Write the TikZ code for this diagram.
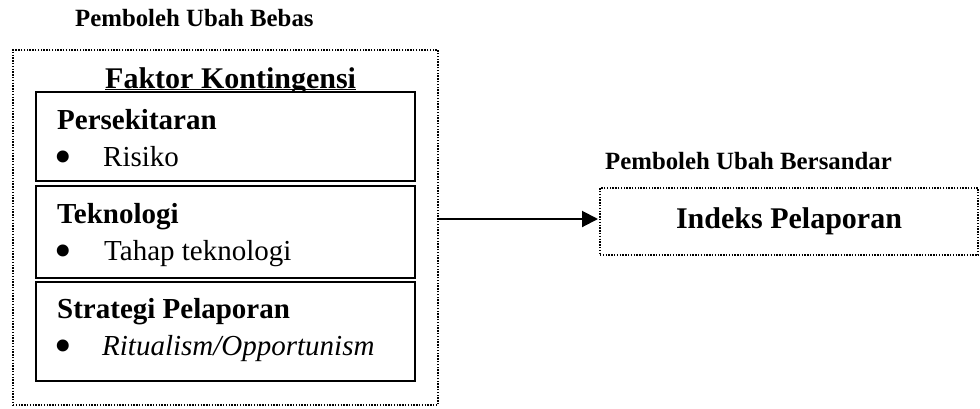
\documentclass[tikz,border=0pt]{standalone}
\usepackage{fontspec}
\setmainfont{Liberation Serif}
\usetikzlibrary{arrows.meta,positioning}

\begin{document}
\begin{tikzpicture}[x=1pt, y=-1pt,
		dotbox/.style={draw, line width=1.4pt, dash pattern=on 1.4pt off 1.4pt, inner sep=0pt, outer sep=0pt},
		factorbox/.style={draw, fill=white, line width=1.7pt, inner sep=0pt, outer sep=0pt, minimum width=379pt},
		smalltitle/.style={anchor=base west, inner sep=0pt, font=\fontsize{24.8}{24.8}\selectfont\bfseries},
		head/.style={anchor=base west, inner sep=0pt, font=\fontsize{29}{29}\selectfont\bfseries},
		item/.style={anchor=base west, inner sep=0pt, font=\fontsize{29}{29}\selectfont},
		dot/.style={anchor=base west, inner sep=0pt, font=\fontsize{50}{50}\selectfont}]
		\useasboundingbox (0,0) rectangle (980,408);
		
		% independent side
		\node[smalltitle] (indeptitle) at (75,26) {Pemboleh Ubah Bebas};
		\node[dotbox, minimum width=425pt, minimum height=355pt] (indep) at (225.5,227.5) {};
		\node[anchor=base west, inner sep=0pt, font=\fontsize{30}{30}\selectfont\bfseries] (factor) at (105,88) {\underline{\smash{Faktor Kontingensi}}};
		
		\node[factorbox, minimum height=89pt] (env) at (225.5,136.5) {};
		\node[factorbox, minimum height=92pt] (tech) at (225.5,232) {};
		\node[factorbox, minimum height=99pt] (strat) at (225.5,331.5) {};
		
		\node[head] (envhead) at (57,129) {Persekitaran};
		\node[dot] (envdot) at (54,173) {\textbullet};
		\node[item] (envitem) at (103,166) {Risiko};
		
		\node[head] (techhead) at (57,223) {Teknologi};
		\node[dot] (techdot) at (54,267) {\textbullet};
		\node[item] (techitem) at (104,260) {Tahap teknologi};
		
		\node[head] (strathead) at (57,318) {Strategi Pelaporan};
		\node[dot] (stratdot) at (54,362) {\textbullet};
		\node[item] (stratitem) at (102,355) {\itshape Ritualism/Opportunism};
		
		% dependent side
		\node[smalltitle] (deptitle) at (605,169) {Pemboleh Ubah Bersandar};
		\node[dotbox, minimum width=378pt, minimum height=67pt, font=\fontsize{30}{30}\selectfont\bfseries] (dep) at (789,221.5) {Indeks Pelaporan};
		
		\draw[-{Triangle[length=16pt,width=16pt]}, line width=2pt, shorten >=2pt] ([yshift=2.5pt]dep.west -| indep.east) -- ([yshift=2.5pt]dep.west);
	\end{tikzpicture}
\end{document}
